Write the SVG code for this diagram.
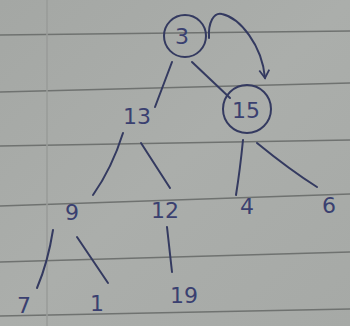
<svg xmlns="http://www.w3.org/2000/svg" width="350" height="326" viewBox="0 0 350 326">
<defs>
<linearGradient id="paper" x1="0" y1="0" x2="1" y2="1">
<stop offset="0" stop-color="#a4a7a4"/>
<stop offset="0.5" stop-color="#abaeab"/>
<stop offset="1" stop-color="#a6a9a6"/>
</linearGradient>
<marker id="arr" viewBox="0 0 12 12" refX="9" refY="6" markerWidth="12" markerHeight="12" orient="auto" markerUnits="userSpaceOnUse">
<path d="M1,1 L9,6 L1,11" fill="none" stroke="#343a60" stroke-width="1.8"/>
</marker>
<style>
.rule{stroke:#6f7270;stroke-width:1.6;fill:none}
.ink{stroke:#343a60;stroke-width:2;fill:none;stroke-linecap:round}
.lbl{font-family:"DejaVu Sans",sans-serif;font-size:22px;fill:#3a4070;text-anchor:middle}
</style>
</defs>
<rect width="350" height="326" fill="url(#paper)"/>
<g id="paper-lines">
<line class="rule" x1="0" y1="35" x2="350" y2="31"/>
<line class="rule" x1="0" y1="92" x2="350" y2="83"/>
<line class="rule" x1="0" y1="146" x2="350" y2="140"/>
<line class="rule" x1="0" y1="206" x2="350" y2="194"/>
<line class="rule" x1="0" y1="262" x2="350" y2="252"/>
<line class="rule" x1="0" y1="316" x2="350" y2="309"/>
<line x1="47" y1="0" x2="47" y2="326" stroke="#989b99" stroke-width="1.5"/>
</g>
<g id="connectors">
<path class="ink" d="M172,62 L155,107"/>
<path class="ink" d="M192,62 L230,98"/>
<path class="ink" d="M209,38 C208,22 214,12 222,14 C240,18 262,45 265,78" marker-end="url(#arr)"/>
<path class="ink" d="M123,133 Q112,168 93,195"/>
<path class="ink" d="M141,143 L170,188"/>
<path class="ink" d="M243,140 Q240,170 236,195"/>
<path class="ink" d="M257,143 Q290,170 317,187"/>
<path class="ink" d="M53,230 Q48,262 37,288"/>
<path class="ink" d="M77,237 L108,283"/>
<path class="ink" d="M167,227 L172,272"/>
</g>
<g id="node-3">
<circle class="ink" cx="185" cy="36" r="21"/>
<text class="lbl" x="182" y="44">3</text>
</g>
<g id="node-15">
<circle class="ink" cx="247" cy="109" r="24"/>
<text class="lbl" x="246" y="118">15</text>
</g>
<g id="node-13"><text class="lbl" x="137" y="124">13</text></g>
<g id="node-9"><text class="lbl" x="72" y="220">9</text></g>
<g id="node-12"><text class="lbl" x="165" y="218">12</text></g>
<g id="node-4"><text class="lbl" x="247" y="214">4</text></g>
<g id="node-6"><text class="lbl" x="329" y="213">6</text></g>
<g id="node-7"><text class="lbl" x="24" y="313">7</text></g>
<g id="node-1"><text class="lbl" x="97" y="311">1</text></g>
<g id="node-19"><text class="lbl" x="184" y="303">19</text></g>
</svg>
